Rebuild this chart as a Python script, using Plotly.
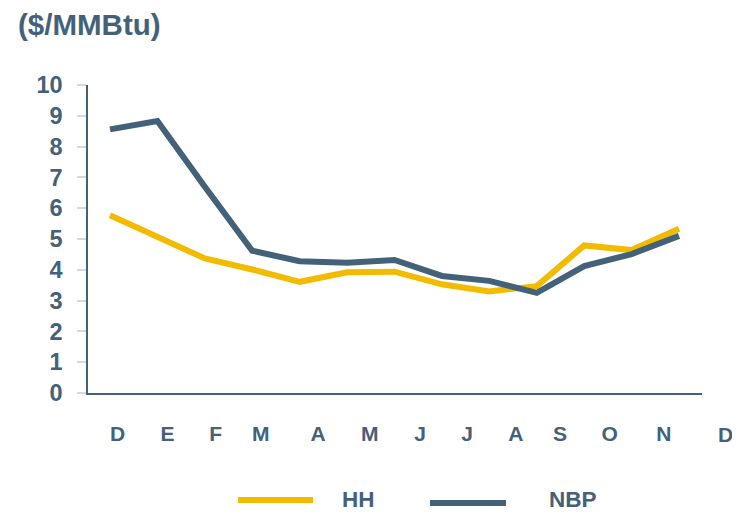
import plotly.graph_objects as go

# months, Dec through Dec (13 monthly points)
months    = ["D", "E", "F", "M", "A", "M", "J", "J", "A", "S", "O", "N", "D"]
hh_price  = [5.77, 5.07, 4.37, 4.01, 3.61, 3.92, 3.94, 3.53, 3.30, 3.47, 4.79, 4.64, 5.33]
nbp_price = [8.56, 8.83, 6.70, 4.62, 4.28, 4.23, 4.32, 3.80, 3.64, 3.25, 4.12, 4.51, 5.10]
y_ticks   = list(range(0, 11))

# where the month letters sit on the axis (they drift off the points in the source)
month_tick_pos = [0.16, 1.21, 2.23, 3.18, 4.39, 5.48, 6.54, 7.53, 8.56, 9.49, 10.54, 11.68, 12.99]

HH_COLOR  = "#f2bb00"
NBP_COLOR = "#436279"
TEXT      = "#44617a"
FONT      = "Liberation Sans, Arial, sans-serif"

# the page body has an 8px margin, so the figure starts 8px in from the window corner
OFF = 8
PL, PR, PT, PB = 88, 702, 85, 393          # plot area in window pixels
W, H = 740, 514
PW, PH = PR - PL, PB - PT
X_RANGE = [-0.464, 12.485]


def px(x):
    return (x - PL) / PW


def py(y):
    return (PB - y) / PH


idx = list(range(len(hh_price)))

fig = go.Figure()
fig.add_trace(go.Scatter(
    x=idx, y=hh_price, mode="lines", name="HH",
    line=dict(color=HH_COLOR, width=6), showlegend=False,
))
fig.add_trace(go.Scatter(
    x=idx, y=nbp_price, mode="lines", name="NBP",
    line=dict(color=NBP_COLOR, width=6), showlegend=False,
))

tick_font = dict(size=21, weight="bold", color=TEXT)

fig.update_layout(
    width=W, height=H,
    margin=dict(l=PL - OFF, r=W - PR + OFF, t=PT - OFF, b=H - PB + OFF),
    paper_bgcolor="white", plot_bgcolor="white",
    font=dict(family=FONT, color=TEXT),
    xaxis=dict(
        range=X_RANGE, showgrid=False, zeroline=False,
        showline=True, linecolor=NBP_COLOR, linewidth=1.5,
        tickmode="array", tickvals=month_tick_pos, ticktext=months,
        ticks="", ticklabelstandoff=21,
        tickfont=tick_font,
    ),
    yaxis=dict(
        range=[0, 10], showgrid=False, zeroline=False,
        showline=True, linecolor=NBP_COLOR, linewidth=1.5,
        tickmode="array", tickvals=y_ticks,
        ticks="outside", ticklen=9, tickwidth=1.5, tickcolor="#d5dade",
        ticklabelstandoff=10,
        tickfont=dict(size=23.5, weight="bold", color=TEXT),
    ),
)

# the closing "D" sits past the end of the axis, so plotly drops it as a tick label
last_pos = month_tick_pos[-1]
if last_pos > X_RANGE[1]:
    fig.add_annotation(
        text=months[-1], xref="paper", yref="paper",
        x=(last_pos - X_RANGE[0]) / (X_RANGE[1] - X_RANGE[0]), y=py(434),
        xanchor="center", yanchor="middle", showarrow=False, font=tick_font,
    )

# unit label at top-left
fig.add_annotation(
    text="($/MMBtu)", xref="paper", yref="paper",
    x=px(16), y=py(24), xanchor="left", yanchor="middle",
    showarrow=False, font=dict(size=29.5, weight="bold", color=TEXT),
)

# legend drawn by hand so the swatches are as long as in the source
for name, color, x0, x1, ly, tx in [
    ("HH", HH_COLOR, 238, 313, 500, 358),
    ("NBP", NBP_COLOR, 430, 506, 503, 573),
]:
    fig.add_shape(
        type="line", xref="paper", yref="paper",
        x0=px(x0), x1=px(x1), y0=py(ly), y1=py(ly),
        line=dict(color=color, width=6),
    )
    fig.add_annotation(
        text=name, xref="paper", yref="paper",
        x=px(tx), y=py(499),
        xanchor="center", yanchor="middle", showarrow=False,
        font=dict(size=22.5, weight="bold", color=TEXT),
    )

fig.write_html("out.html")
